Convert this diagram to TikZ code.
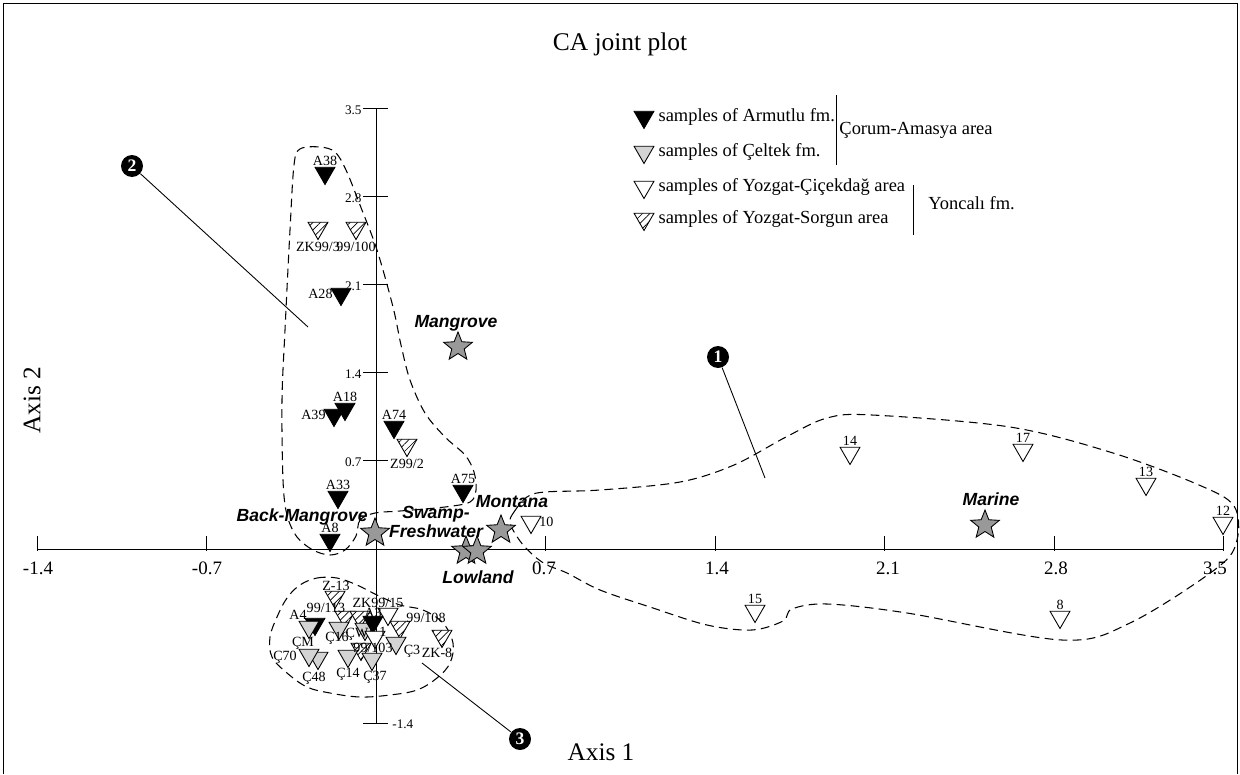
\documentclass[tikz,border=0pt]{standalone}
\usepackage{fontspec}
\setmainfont{Liberation Serif}
\newfontfamily\envfont{Liberation Sans}
\usetikzlibrary{shapes.geometric, patterns.meta, positioning}

\tikzset{
  tri/.style={regular polygon, regular polygon sides=3, shape border rotate=180,
    draw, inner sep=0pt, minimum size=0.46cm, line width=0.5pt},
  armutlu/.style={tri, fill=black},
  celtek/.style={tri, fill=black!17},
  cicek/.style={tri, fill=white},
  sorgun/.style={tri, fill=white,
    postaction={pattern={Lines[angle=45, distance=3pt, line width=0.4pt]}}},
  env/.style={star, star points=5, star point ratio=2.3, draw, fill=black!40,
    inner sep=0pt, minimum size=0.6cm, line width=0.5pt},
  envlbl/.style={font=\envfont\bfseries\itshape\fontsize{10}{10.5}\selectfont,
    inner sep=0pt, align=center},
  lbl/.style={font=\fontsize{8}{8.5}\selectfont, inner sep=0.5pt},
  legtxt/.style={font=\fontsize{10.5}{12}\selectfont, inner sep=0pt},
  hticklbl/.style={font=\fontsize{10.8}{12}\selectfont, inner sep=0pt},
  vticklbl/.style={font=\fontsize{7.5}{8}\selectfont, inner sep=0pt},
  badge/.style={circle, fill=black, text=white, inner sep=0pt, minimum size=0.44cm,
    font=\bfseries\fontsize{10}{10}\selectfont},
  hull/.style={dash pattern=on 5pt off 3pt, line width=0.6pt},
}

\begin{document}
\begin{tikzpicture}[x=0.02cm, y=-0.02cm, line width=0.5pt]
  \useasboundingbox (0,0) rectangle (1240,774);
  % frame
  \draw (3,774) -- (3,3) -- (1237,3) -- (1237,774);

  % titles
  \node[font=\fontsize{14.5}{16}\selectfont] (title) at (620,44) {CA joint plot};
  \node[font=\fontsize{14.4}{16}\selectfont] (ax1) at (601,752) {Axis 1};
  \node[font=\fontsize{14.4}{16}\selectfont, rotate=90] (ax2) at (32,400) {Axis 2};

  % axes
  \draw (37,549) -- (1223,549);
  \draw (376,108) -- (376,723);
  \foreach \x/\lx/\t in {37/38/-1.4, 206.5/207/-0.7, 545.5/544/0.7, 715/717/1.4,
                        884.5/888/2.1, 1054/1056/2.8, 1223/1215/3.5} {
    \draw (\x,536) -- (\x,551);
    \node[hticklbl] at (\lx,568) {\t};
  }
  \foreach \y/\t in {108/3.5, 196/2.8, 284/2.1, 372/1.4, 460/0.7} {
    \draw (363,\y) -- (388,\y);
    \node[vticklbl, anchor=east] at (362,\y+2) {\t};
  }
  \draw (363,723) -- (388,723);
  \node[vticklbl, anchor=west] at (392,724) {-1.4};

  % group outlines
  \draw[hull] plot[smooth cycle, tension=0.55] coordinates {
    (375,513) (360,520) (356,536) (345,550) (330,555) (313,550) (297,537)
    (287,515) (283,480) (282,400) (285,330) (290,230) (294,165) (300,149)
    (320,147) (335,152) (346,170) (360,205) (377,250) (393,307) (401,345)
    (410,380) (425,413) (445,437) (465,455) (474,472) (476,490) (470,502)
    (445,507) (400,511)};
  \draw[hull] plot[smooth cycle, tension=0.55] coordinates {
    (510,523) (514,512) (527,497) (545,492) (600,490) (680,482) (734,465)
    (786,437) (827,418) (872,415) (1010,427) (1113,453) (1199,485) (1234,506)
    (1237,540) (1217,568) (1130,623) (1062,640) (907,613) (827,604) (792,609)
    (783,621) (752,630) (707,625) (650,607) (600,590) (567,573) (547,565)
    (533,555) (520,541)};
  \draw[hull] plot[smooth cycle, tension=0.6] coordinates {
    (300,585) (317,578) (337,578) (357,585) (377,595) (400,605) (423,610)
    (443,623) (453,643) (450,663) (437,678) (417,690) (390,695) (360,697)
    (330,693) (307,687) (287,673) (272,657) (270,637) (277,617) (287,598)};

  % group badges
  \node[badge] (bg1) at (718,357) {1};
  \node[badge] (bg2) at (132,166) {2};
  \node[badge] (bg3) at (520,739) {3};
  \coordinate (e1) at (765,478);
  \coordinate (e2) at (308,327);
  \coordinate (e3) at (422,663);
  \draw (bg1) -- (e1);
  \draw (bg2) -- (e2);
  \draw (bg3) -- (e3);

  % legend
  \node[armutlu] (lg1) at (644,117) {};
  \node[legtxt, right=0.14cm of lg1] (lt1) {samples of Armutlu fm.};
  \node[celtek] (lg2) at (644,152) {};
  \node[legtxt, right=0.14cm of lg2] (lt2) {samples of Çeltek fm.};
  \node[cicek] (lg3) at (644,187) {};
  \node[legtxt, right=0.14cm of lg3] (lt3) {samples of Yozgat-Çiçekdağ area};
  \node[sorgun] (lg4) at (644,219) {};
  \node[legtxt, right=0.14cm of lg4] (lt4) {samples of Yozgat-Sorgun area};
  \draw (836,95) -- (836,165);
  \node[legtxt, anchor=west] (corum) at (839,130) {Çorum-Amasya area};
  \draw (913,185) -- (913,235);
  \node[legtxt, anchor=west] (yoncali) at (928,203) {Yoncalı fm.};

  % group 2 samples
  \node[armutlu, label={[lbl]above:A38}] (A38) at (325,173) {};
  \node[sorgun, label={[lbl]below:ZK99/3}] (ZK993) at (318,228) {};
  \node[sorgun, label={[lbl]below:99/100}] (s99x100) at (356,228) {};
  \node[armutlu, label={[lbl]left:A28}] (A28) at (341,294) {};
  \node[armutlu, label={[lbl]left:A39}] (A39) at (334,415) {};
  \node[armutlu, label={[lbl]above:A18}] (A18) at (345,409) {};
  \node[armutlu, label={[lbl]above:A74}] (A74) at (394,427) {};
  \node[sorgun, label={[lbl]below:Z99/2}] (Z992) at (407,445) {};
  \node[armutlu, label={[lbl]above:A33}] (A33) at (338,497) {};
  \node[armutlu, label={[lbl]above:A8}] (A8) at (330,540) {};
  \node[armutlu, label={[lbl]above:A75}] (A75) at (463,491) {};

  % group 1 samples
  \node[cicek, label={[lbl]east:10}] (c10) at (531,522) {};
  \node[cicek, label={[lbl]above:14}] (c14) at (850,453) {};
  \node[cicek, label={[lbl]above:17}] (c17) at (1023,450) {};
  \node[cicek, label={[lbl]above:13}] (c13) at (1146,484) {};
  \node[cicek, label={[lbl]above:12}] (c12) at (1223,523) {};
  \node[cicek, label={[lbl]above:15}] (c15) at (755,611) {};
  \node[cicek, label={[lbl]above:8}] (c8) at (1060,617) {};

  % group 3 samples
  \node[sorgun] (Z13) at (335,597) {};
  \node[sorgun] (s99x113) at (345,617) {};
  \node[sorgun] (ZK9915) at (360,617) {};
  \node[cicek] (c3) at (388,614) {};
  \node[armutlu] (A4) at (315,624) {};
  \node[celtek] (CM) at (309,627) {};
  \node[celtek] (C16) at (339,628) {};
  \node[celtek] (CW) at (365,629) {};
  \node[armutlu] (A3) at (373,622) {};
  \node[cicek] (c1) at (375,637) {};
  \node[sorgun] (s99x108) at (400,627) {};
  \node[sorgun] (ZK8) at (442,636) {};
  \node[celtek] (C3) at (396,643) {};
  \node[sorgun] (s99x103) at (361,649) {};
  \node[celtek] (C14) at (348,656) {};
  \node[celtek] (C37) at (372,659) {};
  \node[celtek] (C48) at (318,658) {};
  \node[celtek] (C70) at (309,655) {};
  \node[lbl] at (336,586) {Z-13};
  \node[lbl] at (326,608) {99/113};
  \node[lbl] at (378,603) {ZK99/15};
  \node[lbl] at (298,615) {A4};
  \node[lbl] at (373,613) {A3};
  \node[lbl] at (303,643) {ÇM};
  \node[lbl] at (337,638) {Ç16};
  \node[lbl] at (357,634) {ÇW};
  \node[lbl] at (383,632) {1};
  \node[lbl] at (426,618) {99/108};
  \node[lbl] at (437,653) {ZK-8};
  \node[lbl] at (412,651) {Ç3};
  \node[lbl] at (373,648) {99/103};
  \node[lbl] at (348,674) {Ç14};
  \node[lbl] at (375,677) {Ç37};
  \node[lbl] at (285,657) {Ç70};
  \node[lbl] at (314,678) {Ç48};

  % environments
  \node[env] (mangrove) at (458,347) {};
  \node[envlbl] (mangrovel) at (456,323) {Mangrove};
  \node[env] (backm) at (375,533) {};
  \node[envlbl, anchor=east] (backml) at (368,517) {Back-Mangrove};
  \node[envlbl] (swampl) at (436,522) {Swamp-\\Freshwater};
  \node[env] (montana) at (501,530) {};
  \node[envlbl] (montanal) at (512,502) {Montana};
  \node[env] (lowa) at (466,551) {};
  \node[env] (lowb) at (477,551) {};
  \node[envlbl] (lowl) at (478,577) {Lowland};
  \node[env] (marine) at (985,525) {};
  \node[envlbl] (marinel) at (991,499) {Marine};
\end{tikzpicture}
\end{document}
